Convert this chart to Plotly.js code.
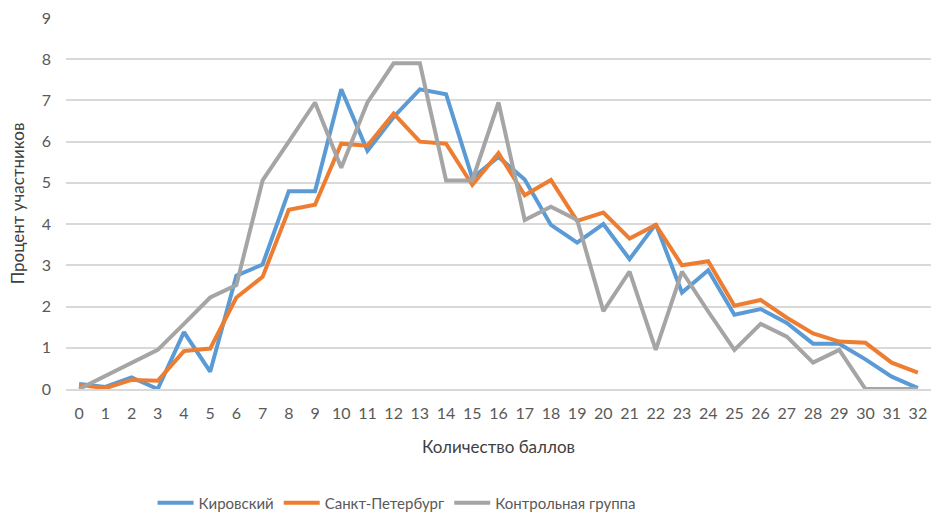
<!DOCTYPE html>
<html><head><meta charset="utf-8">
<script src="https://cdn.plot.ly/plotly-3.0.1.min.js"></script>
<style>body{margin:0;background:#fff}#c{width:936px;height:517px}</style>
</head><body><div id="c"></div>
<script>
const scores = [0,1,2,3,4,5,6,7,8,9,10,11,12,13,14,15,16,17,18,19,20,21,22,23,24,25,26,27,28,29,30,31,32];
const kirovsky = [0.12,0.05,0.28,0.0,1.38,0.42,2.75,3.02,4.8,4.8,7.27,5.78,6.6,7.27,7.15,5.12,5.63,5.08,3.98,3.55,4.0,3.15,4.0,2.34,2.88,1.8,1.94,1.6,1.1,1.1,0.72,0.3,0.02];
const spb = [0.1,0.02,0.22,0.2,0.92,0.98,2.22,2.72,4.35,4.47,5.95,5.9,6.68,6.0,5.95,4.95,5.72,4.7,5.07,4.08,4.28,3.65,3.98,3.0,3.1,2.02,2.16,1.73,1.35,1.15,1.12,0.64,0.4];
const control = [0.0,0.32,0.64,0.95,1.58,2.22,2.52,5.06,6.0,6.95,5.37,6.95,7.9,7.9,5.06,5.06,6.95,4.1,4.42,4.1,1.89,2.85,0.95,2.85,1.88,0.95,1.58,1.27,0.64,0.95,0.0,0.0,0.0];
const names = ['Кировский','Санкт-Петербург','Контрольная группа'];
const colors = ['#5B9BD5','#ED7D31','#A5A5A5'];
const series = [kirovsky, spb, control];
const traces = series.map((s,i)=>({x:scores,y:s,type:'scatter',mode:'lines',name:names[i],line:{color:colors[i],width:4}}));
const font = 'Lato, "Open Sans", sans-serif';
Plotly.newPlot('c', traces, {
  width:936,height:517,
  margin:{l:66,r:5,t:18,b:128},
  paper_bgcolor:'#fff',plot_bgcolor:'#fff',
  font:{family:font,size:16,color:'#595959'},
  xaxis:{range:[-0.5,32.5],tickmode:'array',tickvals:scores,ticktext:scores.map(String),showgrid:false,zeroline:false,automargin:false,
    showline:true,linecolor:'#D9D9D9',linewidth:1.5,ticks:'',ticklabelstandoff:9,
    tickfont:{family:font,size:16,color:'#595959'},
    title:{text:'Количество баллов',font:{family:font,size:17,color:'#404040'},standoff:20}},
  yaxis:{range:[0,9],dtick:1,showgrid:true,gridcolor:'#D9D9D9',gridwidth:1.5,zeroline:false,automargin:false,ticks:'',ticklabelstandoff:14,
    tickfont:{family:font,size:16,color:'#595959'},
    title:{text:'Процент участников',font:{family:font,size:17,color:'#404040'},standoff:12}},
  legend:{orientation:'h',x:0.163,xanchor:'left',xref:'container',y:0.027,yref:'container',yanchor:'middle',font:{family:font,size:15,color:'#595959'},itemwidth:36,tracegroupgap:0},
  showlegend:true
},{displayModeBar:false});
</script></body></html>
